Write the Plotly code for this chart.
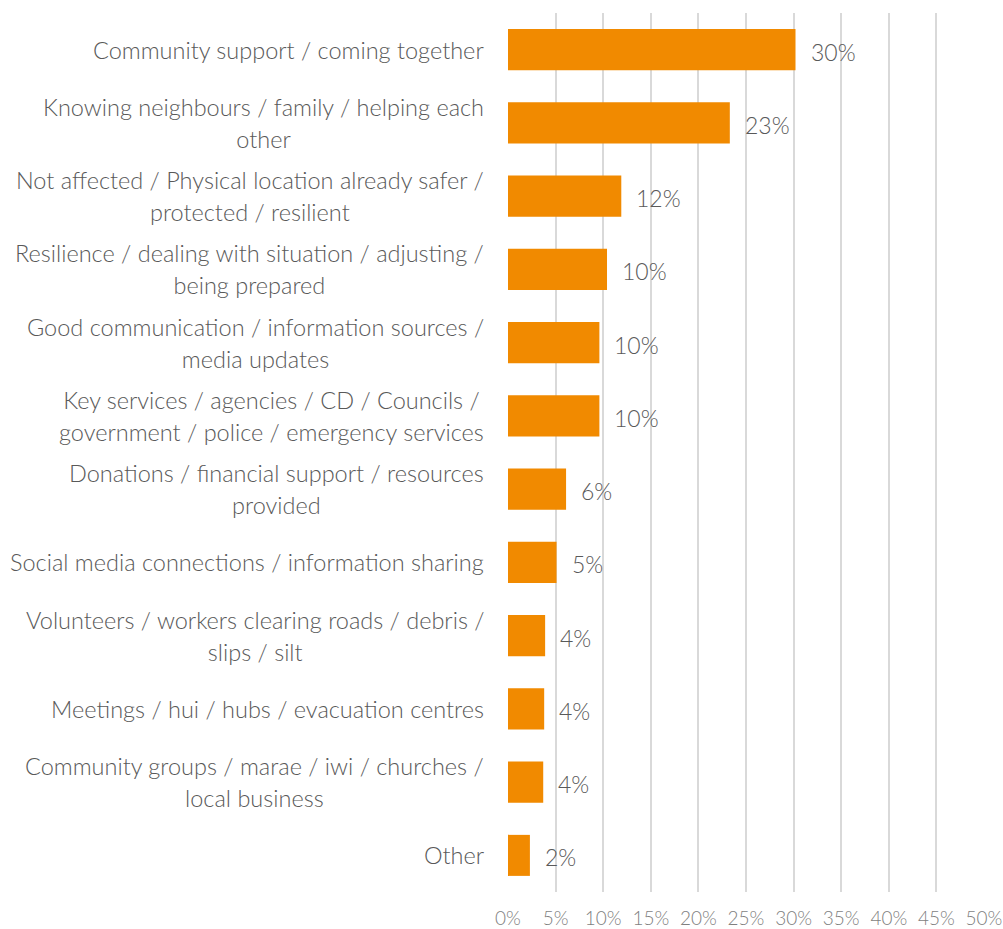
import plotly.graph_objects as go

# Responses, top to bottom (each entry lists the label's lines)
categories = [
    ["Community support / coming together"],
    ["Knowing neighbours / family / helping each", "other"],
    ["Not affected / Physical location already safer /", "protected / resilient"],
    ["Resilience / dealing with situation / adjusting /", "being prepared"],
    ["Good communication / information sources /", "media updates"],
    ["Key services / agencies / CD / Councils /", "government / police / emergency services"],
    ["Donations / financial support / resources", "provided"],
    ["Social media connections / information sharing"],
    ["Volunteers / workers clearing roads / debris /", "slips / silt"],
    ["Meetings / hui / hubs / evacuation centres"],
    ["Community groups / marae / iwi / churches /", "local business"],
    ["Other"],
]
shares = [30.2, 23.3, 11.9, 10.4, 9.6, 9.6, 6.1, 5.1, 3.9, 3.8, 3.7, 2.3]
x_ticks = [0, 5, 10, 15, 20, 25, 30, 35, 40, 45, 50]

keys = [" / ".join(lines) for lines in categories]

FONT = "Segoe UI Light, Lato, Open Sans, sans-serif"
BAR = "#F18A00"
TEXT = "#595959"
LABEL_PX = 23.5   # glyph size of the category labels
LINE_PX = 24.6    # sets the 32px line pitch of wrapped labels

fig = go.Figure(
    go.Bar(
        x=shares,
        y=keys,
        orientation="h",
        marker=dict(color=BAR, line=dict(width=0)),
        width=0.56,
        hoverinfo="skip",
    )
)

annotations = []
for key, lines, val in zip(keys, categories, shares):
    # value label to the right of each bar
    annotations.append(dict(
        x=val, y=key, xref="x", yref="y",
        text=f"{val:.0f}%", showarrow=False,
        xanchor="left", xshift=13, yshift=-2,
        font=dict(family=FONT, size=23, color=TEXT, weight=300),
    ))
    # category label, wrapped lines centred on each other
    text = "<br>".join(
        f'<span style="font-size:{LABEL_PX}px">{line}</span>' for line in lines
    )
    annotations.append(dict(
        x=0, y=key, xref="x", yref="y",
        text=text, showarrow=False, align="center",
        xanchor="right", xshift=-22,
        font=dict(family=FONT, size=LINE_PX, color=TEXT, weight=300),
    ))

fig.update_layout(
    width=1003, height=929,
    margin=dict(l=508, r=19, t=13, b=37),
    paper_bgcolor="white", plot_bgcolor="white",
    showlegend=False,
    annotations=annotations,
    xaxis=dict(
        range=[0, 50], tickvals=x_ticks,
        ticktext=[f"{v}%" for v in x_ticks],
        showgrid=True, gridcolor="#D9D9D9", gridwidth=2,
        zeroline=False, showline=False, ticks="",
        tickfont=dict(family=FONT, size=19, color="#7F7F7F", weight=300),
        ticklabelstandoff=13, automargin=False, fixedrange=True,
    ),
    yaxis=dict(
        categoryorder="array", categoryarray=keys[::-1],
        showticklabels=False, showgrid=False, zeroline=False,
        showline=False, ticks="", automargin=False, fixedrange=True,
    ),
)

fig.write_html("out.html")
